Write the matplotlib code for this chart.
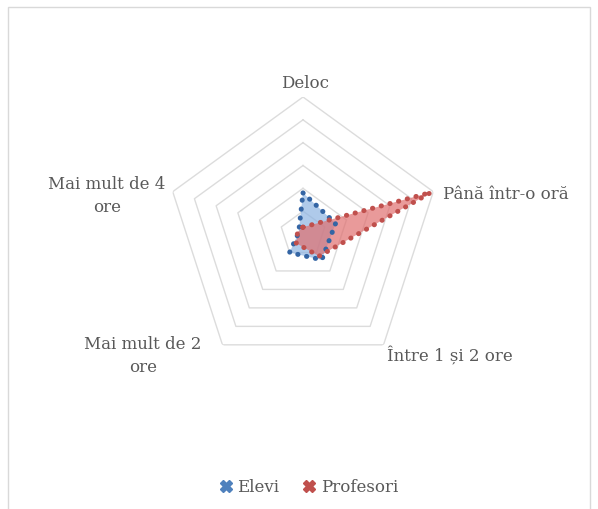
import numpy as np
import matplotlib
matplotlib.use("Agg")
import matplotlib.pyplot as plt
from matplotlib.lines import Line2D
from matplotlib.patches import Rectangle

# date (procente)
categorii = ["Deloc", "Până într-o oră", "Între 1 și 2 ore", "Mai mult de 2\nore", "Mai mult de 4\nore"]
elevi = [18, 15, 14, 10, 2]
profesori = [3, 59, 12, 5, 2.5]
inele = [10, 20, 30, 40, 50, 60]
serii = ["Elevi", "Profesori"]

W, H = 598, 510
fig = plt.figure(figsize=(W / 100, H / 100), dpi=100)
fig.patch.set_facecolor("white")
fig.patches.append(Rectangle((8 / W, -0.1), (W - 16) / W, 1.1 - 8 / H, transform=fig.transFigure,
                             fill=False, edgecolor="#d9d9d9", linewidth=1))

cx, cy, R = 303, 235, 137
ax = fig.add_axes([(cx - R) / W, (H - cy - R) / H, 2 * R / W, 2 * R / H], projection="polar")
ax.set_theta_offset(np.pi / 2)
ax.set_theta_direction(-1)
ax.set_ylim(0, inele[-1])
ax.grid(False)
ax.set_xticks([])
ax.set_yticks([])
ax.spines["polar"].set_visible(False)
ax.patch.set_alpha(0)

n = len(categorii)
unghiuri = np.linspace(0, 2 * np.pi, n, endpoint=False)
ung_inchis = np.concatenate([unghiuri, unghiuri[:1]])

for r in inele:
    ax.plot(ung_inchis, [r] * (n + 1), color="#dcdcdc", linewidth=1, zorder=1)

def desen(valori, fill, dots):
    v = np.concatenate([valori, valori[:1]])
    ax.fill(ung_inchis, v, color=fill, alpha=0.7, zorder=2, linewidth=0)
    ax.plot(ung_inchis, v, color=dots, linewidth=3.6, linestyle=(0, (0.05, 1.75)),
            dash_capstyle="round", solid_capstyle="round", zorder=3)

desen(elevi, "#8db4e2", "#3465a4")
desen(profesori, "#e06f6f", "#c0504d")

txt = dict(color="#595959", fontsize=12, family="DejaVu Serif")
fig.text(305 / W, 1 - 83 / H, categorii[0], ha="center", va="center", **txt)
fig.text(443 / W, 1 - 195 / H, categorii[1], ha="left", va="center", **txt)
fig.text(387 / W, 1 - 356 / H, categorii[2], ha="left", va="center", **txt)
fig.text(143 / W, 1 - 356 / H, categorii[3], ha="center", va="center", linespacing=1.5, **txt)
fig.text(107 / W, 1 - 196 / H, categorii[4], ha="center", va="center", linespacing=1.5, **txt)

handles = [Line2D([], [], marker="X", linestyle="", markersize=9, color="#4f81bd"),
           Line2D([], [], marker="X", linestyle="", markersize=9, color="#c0504d")]
fig.legend(handles, serii, loc="center", bbox_to_anchor=(307 / W, 1 - 488 / H), ncol=2,
           frameon=False, handletextpad=0.1, columnspacing=1.2, handlelength=1.2,
           prop={"family": "DejaVu Serif", "size": 12}, labelcolor="#595959")

fig.savefig("out.png", dpi=100)
